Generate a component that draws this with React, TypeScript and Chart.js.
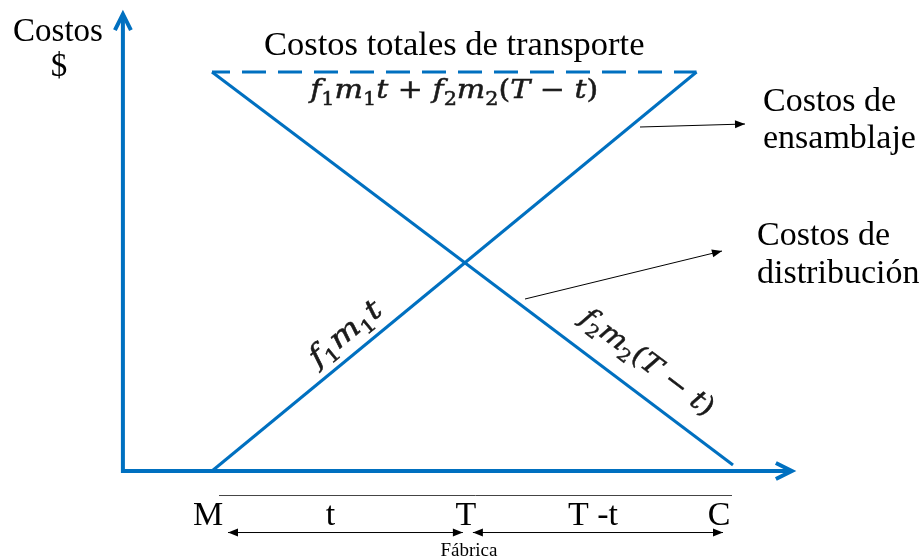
import React, { useEffect, useRef } from 'react';
import { Chart, registerables } from 'chart.js';

Chart.register(...registerables);

// ---- data (abstract units: distance on x, cost on y) ----
const ensamblajeX = [0, 9.3];
const ensamblajeY = [0, 10];
const distribucionX = [0, 10];
const distribucionY = [10, 0.15];
const totalX = [0, 9.3];
const totalY = [10, 10];

const pointLabels = ['M', 'T', 'C'];
const segmentLabels = ['t', 'T -t'];
const factoryLabel = 'Fábrica';

const axisOriginX = -1.71;
const xAxisEnd = 11.13;
const yAxisEnd = 11.45;

const BLUE = '#0070C0';
const SERIF = '"Liberation Serif", "Times New Roman", serif';
const MATH = '"DejaVu Serif", serif';

type Part = { t: string; it?: boolean; sub?: boolean };

const totalFormula: Part[] = [
  { t: 'f', it: true }, { t: '1', sub: true }, { t: 'm', it: true }, { t: '1', sub: true }, { t: 't', it: true },
  { t: ' + ' },
  { t: 'f', it: true }, { t: '2', sub: true }, { t: 'm', it: true }, { t: '2', sub: true },
  { t: '(' }, { t: 'T', it: true }, { t: ' − ' }, { t: 't', it: true }, { t: ')' },
];
const ensFormula: Part[] = [
  { t: 'f', it: true }, { t: '1', sub: true }, { t: 'm', it: true }, { t: '1', sub: true }, { t: 't', it: true },
];
const distFormula: Part[] = [
  { t: 'f', it: true }, { t: '2', sub: true }, { t: 'm', it: true }, { t: '2', sub: true },
  { t: '(' }, { t: 'T', it: true }, { t: ' − ' }, { t: 't', it: true }, { t: ')' },
];

function pts(xs: number[], ys: number[]) {
  return xs.map((x, i) => ({ x, y: ys[i] }));
}

function mathFont(p: Part, size: number) {
  const s = p.sub ? Math.round(size * 0.68) : size;
  return `${p.it ? 'italic ' : ''}${s}px ${MATH}`;
}

function drawMath(ctx: CanvasRenderingContext2D, parts: Part[], cx: number, cy: number, angle: number, size: number, targetW: number) {
  ctx.save();
  ctx.translate(cx, cy);
  ctx.rotate(angle);
  let total = 0;
  const widths = parts.map((p) => {
    ctx.font = mathFont(p, size);
    const w = ctx.measureText(p.t).width;
    total += w;
    return w;
  });
  const sx = targetW / total;
  ctx.scale(sx, 1);
  let x = -total / 2;
  ctx.fillStyle = '#1a1a1a';
  ctx.strokeStyle = '#1a1a1a';
  ctx.lineWidth = 0.5;
  ctx.textBaseline = 'alphabetic';
  ctx.textAlign = 'left';
  parts.forEach((p, i) => {
    ctx.font = mathFont(p, size);
    const yy = size * 0.32 + (p.sub ? size * 0.24 : 0);
    ctx.fillText(p.t, x, yy);
    ctx.strokeText(p.t, x, yy);
    x += widths[i];
  });
  ctx.restore();
}

function filledHead(ctx: CanvasRenderingContext2D, x1: number, y1: number, x2: number, y2: number, len: number, half: number) {
  const a = Math.atan2(y2 - y1, x2 - x1);
  const c = Math.cos(a), s = Math.sin(a);
  ctx.beginPath();
  ctx.moveTo(x2, y2);
  ctx.lineTo(x2 - len * c + half * s, y2 - len * s - half * c);
  ctx.lineTo(x2 - len * c - half * s, y2 - len * s + half * c);
  ctx.closePath();
  ctx.fill();
}

function thinArrow(ctx: CanvasRenderingContext2D, x1: number, y1: number, x2: number, y2: number, both: boolean) {
  ctx.save();
  ctx.strokeStyle = '#000';
  ctx.fillStyle = '#000';
  ctx.lineWidth = 1;
  ctx.beginPath();
  ctx.moveTo(x1, y1);
  ctx.lineTo(x2, y2);
  ctx.stroke();
  filledHead(ctx, x1, y1, x2, y2, 10, 4);
  if (both) filledHead(ctx, x2, y2, x1, y1, 10, 4);
  ctx.restore();
}

const diagramPlugin = {
  id: 'diagram',
  beforeDatasetsDraw(chart: any) {
    const ctx: CanvasRenderingContext2D = chart.ctx;
    const xs = chart.scales.x, ys = chart.scales.y;
    const ox = xs.getPixelForValue(axisOriginX);
    const oy = ys.getPixelForValue(0);
    const xe = xs.getPixelForValue(xAxisEnd);
    const ye = ys.getPixelForValue(yAxisEnd);
    ctx.save();
    ctx.strokeStyle = BLUE;
    ctx.lineWidth = 4;
    ctx.lineJoin = 'miter';
    ctx.beginPath();
    ctx.moveTo(ox, ye + 2);
    ctx.lineTo(ox, oy);
    ctx.lineTo(xe - 2, oy);
    ctx.stroke();
    // chevrons
    ctx.beginPath();
    ctx.moveTo(ox - 8, ye + 16);
    ctx.lineTo(ox, ye);
    ctx.lineTo(ox + 8, ye + 16);
    ctx.stroke();
    ctx.beginPath();
    ctx.moveTo(xe - 16, oy - 8);
    ctx.lineTo(xe, oy);
    ctx.lineTo(xe - 16, oy + 8);
    ctx.stroke();
    ctx.restore();
  },
  afterDraw(chart: any) {
    const ctx: CanvasRenderingContext2D = chart.ctx;
    const xs = chart.scales.x, ys = chart.scales.y;
    const px = (v: number) => xs.getPixelForValue(v);
    const py = (v: number) => ys.getPixelForValue(v);
    const oy = py(0);

    // intersection of the two cost lines (factory location T)
    const s1 = (ensamblajeY[1] - ensamblajeY[0]) / (ensamblajeX[1] - ensamblajeX[0]);
    const s2 = (distribucionY[1] - distribucionY[0]) / (distribucionX[1] - distribucionX[0]);
    const tX = (distribucionY[0] - s2 * distribucionX[0] - ensamblajeY[0] + s1 * ensamblajeX[0]) / (s1 - s2);

    const mPix = px(ensamblajeX[0]);
    const tPix = px(tX);
    const cPix = px(distribucionX[1]);

    ctx.save();
    ctx.fillStyle = '#000';
    ctx.textBaseline = 'alphabetic';
    ctx.textAlign = 'center';
    ctx.font = `33px ${SERIF}`;
    ctx.fillText('Costos', 58, 41);
    ctx.fillText('$', 59, 76);
    ctx.font = `34.5px ${SERIF}`;
    ctx.fillText('Costos totales de transporte', (px(totalX[0]) + px(totalX[1])) / 2, 55);

    ctx.font = `34px ${SERIF}`;
    ctx.textAlign = 'left';
    ctx.fillText('Costos de', 763, 111);
    ctx.fillText('ensamblaje', 763, 148);
    ctx.fillText('Costos de', 757, 245);
    ctx.fillText('distribución', 757, 283);

    // bottom labels
    ctx.textAlign = 'center';
    ctx.font = `34px ${SERIF}`;
    const base = oy + 54;
    ctx.fillText(pointLabels[0], mPix - 4, base);
    ctx.fillText(pointLabels[1], tPix + 1, base);
    ctx.fillText(pointLabels[2], cPix - 14, base);
    ctx.fillText(segmentLabels[0], (mPix + tPix) / 2 - 8, base);
    ctx.fillText(segmentLabels[1], (tPix + cPix) / 2 - 6, base);
    ctx.font = `19px ${SERIF}`;
    ctx.fillText(factoryLabel, tPix + 4, 556);

    // gray rule
    ctx.strokeStyle = '#444';
    ctx.lineWidth = 1;
    ctx.beginPath();
    ctx.moveTo(mPix + 7, oy + 24.5);
    ctx.lineTo(cPix - 1, oy + 24.5);
    ctx.stroke();
    ctx.restore();

    // double arrows
    const ay = oy + 61.5;
    thinArrow(ctx, tPix - 2, ay, mPix + 16, ay, false);
    filledHead(ctx, mPix + 16, ay, tPix - 2, ay, 10, 4);
    thinArrow(ctx, tPix + 8, ay, cPix - 10, ay, true);

    // annotation arrows
    thinArrow(ctx, 640, 127, 745, 124, false);
    thinArrow(ctx, 525, 299, 722, 251, false);

    // math labels
    const a1 = Math.atan2(py(ensamblajeY[1]) - py(ensamblajeY[0]), px(ensamblajeX[1]) - px(ensamblajeX[0]));
    const a2 = Math.atan2(py(distribucionY[1]) - py(distribucionY[0]), px(distribucionX[1]) - px(distribucionX[0]));
    drawMath(ctx, totalFormula, (px(totalX[0]) + px(totalX[1])) / 2, py(totalY[0]) + 18, 0, 26, 288);
    drawMath(ctx, ensFormula, 345, 333, a1, 28, 86);
    drawMath(ctx, distFormula, 648, 362, a2, 27, 160);
  },
};

export default function App() {
  const ref = useRef<HTMLCanvasElement>(null);
  useEffect(() => {
    document.body.style.margin = '0';
    const canvas = ref.current;
    if (!canvas) return;
    const line = (data: any, dash?: number[]) => ({
      data,
      borderColor: BLUE,
      borderWidth: 3,
      borderDash: dash || [],
      borderDashOffset: dash ? 6 : 0,
      pointRadius: 0,
      fill: false,
      tension: 0,
    });
    const chart = new Chart(canvas, {
      type: 'line',
      data: {
        datasets: [
          { label: 'Costos de ensamblaje', ...line(pts(ensamblajeX, ensamblajeY)) },
          { label: 'Costos de distribución', ...line(pts(distribucionX, distribucionY)) },
          { label: 'Costos totales de transporte', ...line(pts(totalX, totalY), [24, 12]) },
        ],
      },
      options: {
        animation: false,
        responsive: false,
        maintainAspectRatio: false,
        layout: { padding: 0 },
        plugins: { legend: { display: false }, tooltip: { enabled: false } },
        scales: {
          x: { type: 'linear', min: -4.069, max: 13.666, display: false },
          y: { type: 'linear', min: -2.18, max: 11.805, display: false },
        },
      },
      plugins: [diagramPlugin],
    });
    return () => chart.destroy();
  }, []);
  return <canvas ref={ref} width={924} height={558} style={{ display: 'block' }} />;
}
